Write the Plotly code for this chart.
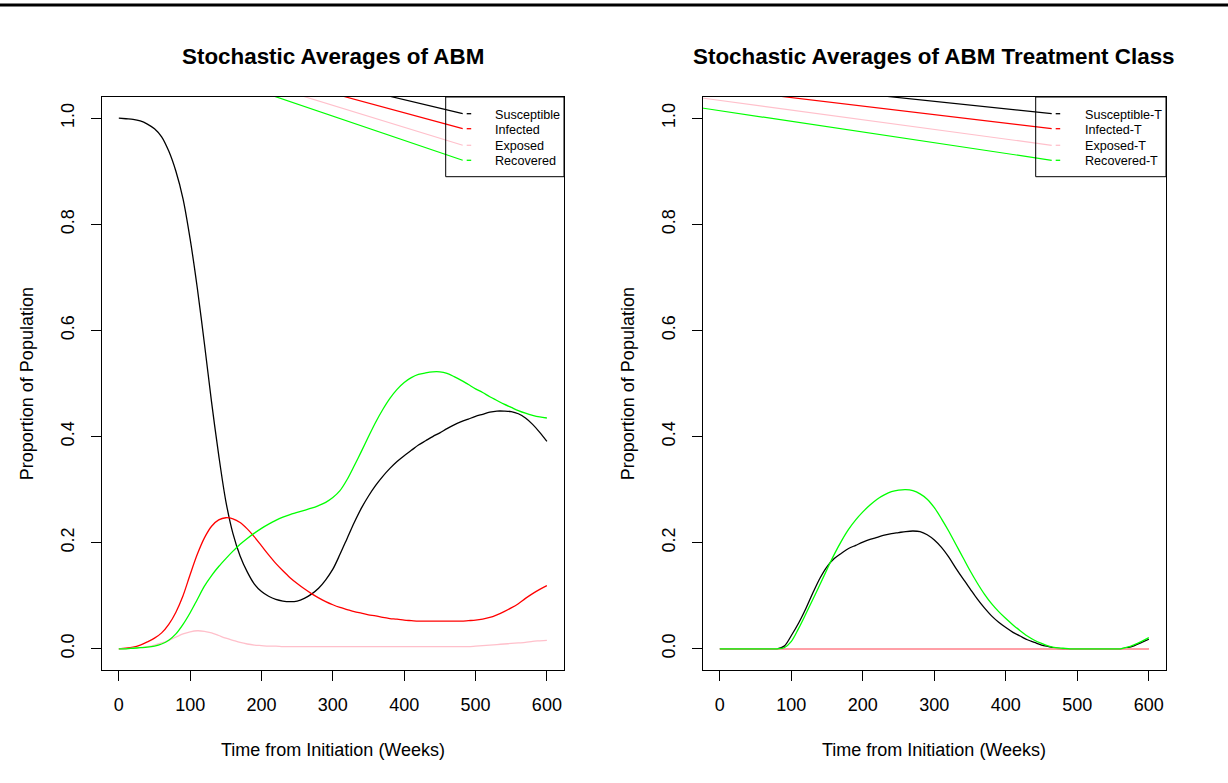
import plotly.graph_objects as go

# ---- data: weekly averages of the agent-based model (proportion of population)
weeks = list(range(0, 601, 10))

susceptible = [1.000, 0.999, 0.998, 0.995, 0.989, 0.980, 0.965, 0.938, 0.900, 0.848,
               0.772, 0.680, 0.575, 0.465, 0.365, 0.278, 0.217, 0.175, 0.145, 0.122,
               0.108, 0.099, 0.093, 0.090, 0.089, 0.090, 0.095, 0.103, 0.114, 0.130,
               0.150, 0.178, 0.208, 0.238, 0.265, 0.288, 0.308, 0.325, 0.340, 0.353,
               0.364, 0.374, 0.384, 0.392, 0.400, 0.407, 0.415, 0.422, 0.428, 0.433,
               0.438, 0.442, 0.446, 0.448, 0.448, 0.447, 0.443, 0.435, 0.423, 0.408,
               0.391]
infected = [0.000, 0.001, 0.003, 0.007, 0.013, 0.020, 0.030, 0.046, 0.069, 0.100,
            0.140, 0.178, 0.209, 0.231, 0.243, 0.247, 0.245, 0.238, 0.226, 0.211,
            0.194, 0.177, 0.161, 0.147, 0.134, 0.123, 0.113, 0.104, 0.096, 0.089,
            0.083, 0.078, 0.074, 0.070, 0.067, 0.064, 0.062, 0.059, 0.057, 0.056,
            0.054, 0.053, 0.052, 0.052, 0.052, 0.052, 0.052, 0.052, 0.052, 0.053,
            0.054, 0.056, 0.059, 0.064, 0.070, 0.077, 0.085, 0.095, 0.104, 0.112,
            0.119]
exposed = [0.000, 0.000, 0.001, 0.002, 0.004, 0.007, 0.011, 0.016, 0.022, 0.028,
           0.032, 0.034, 0.033, 0.030, 0.025, 0.020, 0.016, 0.012, 0.009, 0.007,
           0.006, 0.005, 0.005, 0.004, 0.004, 0.004, 0.004, 0.004, 0.004, 0.004,
           0.004, 0.004, 0.004, 0.004, 0.004, 0.004, 0.004, 0.004, 0.004, 0.004,
           0.004, 0.004, 0.004, 0.004, 0.004, 0.004, 0.004, 0.004, 0.004, 0.004,
           0.005, 0.006, 0.007, 0.008, 0.009, 0.010, 0.011, 0.012, 0.014, 0.015,
           0.016]
recovered = [0.000, 0.000, 0.001, 0.002, 0.003, 0.005, 0.009, 0.016, 0.028, 0.046,
             0.068, 0.093, 0.118, 0.138, 0.155, 0.170, 0.184, 0.197, 0.208, 0.218,
             0.227, 0.235, 0.242, 0.248, 0.253, 0.257, 0.261, 0.265, 0.270, 0.276,
             0.285, 0.298, 0.319, 0.345, 0.372, 0.400, 0.427, 0.451, 0.472, 0.489,
             0.502, 0.511, 0.517, 0.520, 0.522, 0.522, 0.519, 0.513, 0.506, 0.498,
             0.490, 0.483, 0.475, 0.468, 0.461, 0.455, 0.449, 0.444, 0.440, 0.437,
             0.435]

susceptible_t = [0.000, 0.000, 0.000, 0.000, 0.000, 0.000, 0.000, 0.000, 0.000, 0.005,
                 0.025, 0.048, 0.075, 0.105, 0.133, 0.155, 0.170, 0.180, 0.189, 0.195,
                 0.201, 0.206, 0.210, 0.214, 0.217, 0.219, 0.221, 0.222, 0.221, 0.215,
                 0.205, 0.191, 0.173, 0.152, 0.132, 0.113, 0.094, 0.077, 0.062, 0.050,
                 0.040, 0.031, 0.024, 0.017, 0.012, 0.007, 0.004, 0.001, 0.000, 0.000,
                 0.000, 0.000, 0.000, 0.000, 0.000, 0.000, 0.000, 0.002, 0.006, 0.012,
                 0.018]
infected_t = [0.0] * 61
exposed_t = [0.0] * 61
recovered_t = [0.000, 0.000, 0.000, 0.000, 0.000, 0.000, 0.000, 0.000, 0.000, 0.002,
               0.014, 0.038, 0.065, 0.093, 0.121, 0.150, 0.178, 0.203, 0.225, 0.243,
               0.258, 0.271, 0.282, 0.290, 0.296, 0.299, 0.300, 0.298, 0.292, 0.282,
               0.266, 0.245, 0.222, 0.197, 0.172, 0.147, 0.124, 0.103, 0.085, 0.070,
               0.057, 0.045, 0.034, 0.024, 0.016, 0.010, 0.005, 0.002, 0.001, 0.000,
               0.000, 0.000, 0.000, 0.000, 0.000, 0.000, 0.000, 0.003, 0.008, 0.014,
               0.021]

labels_main = ["Susceptible", "Infected", "Exposed", "Recovered"]
labels_treat = ["Susceptible-T", "Infected-T", "Exposed-T", "Recovered-T"]
colors = ["#000000", "#ff0000", "#ffc0cb", "#00ff00"]

x_ticks = [0, 100, 200, 300, 400, 500, 600]
y_ticks = [0.0, 0.2, 0.4, 0.6, 0.8, 1.0]
y_tick_text = ["0.0", "0.2", "0.4", "0.6", "0.8", "1.0"]

# ---- page geometry (pixels)
W, H = 1228, 783
BOX_TOP, BOX_BOTTOM = 97.0, 670.0
BOXES = [(101.7, 564.0), (702.7, 1166.0)]
XR = [-24, 624]
YR = [-0.04, 1.04]
FONT = "Liberation Sans, Arial, sans-serif"


def px(p):
    return p / W


def py(p):
    return 1 - p / H


def data_x(p, box):
    return XR[0] + (p - box[0]) / (box[1] - box[0]) * (XR[1] - XR[0])


def data_y(p):
    return YR[0] + (BOX_BOTTOM - p) / (BOX_BOTTOM - BOX_TOP) * (YR[1] - YR[0])


fig = go.Figure()

panels = [
    ([susceptible, infected, exposed, recovered], labels_main,
     "Stochastic Averages of ABM"),
    ([susceptible_t, infected_t, exposed_t, recovered_t], labels_treat,
     "Stochastic Averages of ABM Treatment Class"),
]

legend_rows = [113.7, 128.7, 145.3, 160.3]
legend_left = [445.7, 1035.7]
key_start = [466.7, 1055.7]
text_left = [492.7, 1082.7]

shapes = []
annotations = []

for i, (series, labels, title) in enumerate(panels):
    xa = "x" if i == 0 else "x2"
    ya = "y" if i == 0 else "y2"
    box = BOXES[i]

    for vals, col in zip(series, colors):
        fig.add_trace(go.Scatter(x=weeks, y=vals, mode="lines", xaxis=xa, yaxis=ya,
                                 line=dict(color=col, width=1.3, shape="spline",
                                           smoothing=0.9),
                                 hoverinfo="skip", showlegend=False))

    # legend leader lines running from the page corner to each key
    for row, col in zip(legend_rows, colors):
        x0, y0 = data_x(0.0, box), data_y(3.0)
        x1, y1 = data_x(key_start[i] - 4, box), data_y(row)
        fig.add_trace(go.Scatter(x=[x0, x1], y=[y0, y1], mode="lines", xaxis=xa, yaxis=ya,
                                 line=dict(color=col, width=1.2),
                                 hoverinfo="skip", showlegend=False))

    # legend box
    shapes.append(dict(type="rect", xref="paper", yref="paper",
                       x0=px(legend_left[i]), x1=px(box[1]),
                       y0=py(176.7), y1=py(BOX_TOP),
                       line=dict(color="black", width=1), fillcolor="rgba(0,0,0,0)"))
    for row, col, lab in zip(legend_rows, colors, labels):
        shapes.append(dict(type="line", xref="paper", yref="paper",
                           x0=px(key_start[i]), x1=px(key_start[i] + 4.5),
                           y0=py(row), y1=py(row),
                           line=dict(color=col, width=1.3)))
        annotations.append(dict(text=lab, xref="paper", yref="paper",
                                x=px(text_left[i]), y=py(row + 1),
                                xanchor="left", yanchor="middle", showarrow=False,
                                font=dict(family=FONT, size=12.6, color="black")))

    cx = (box[0] + box[1]) / 2
    annotations.append(dict(text="<b>" + title + "</b>", xref="paper", yref="paper",
                            x=px(cx), y=py(57), xanchor="center", yanchor="middle",
                            showarrow=False,
                            font=dict(family=FONT, size=22.4, color="black")))
    annotations.append(dict(text="Time from Initiation (Weeks)", xref="paper",
                            yref="paper", x=px(cx), y=py(750), xanchor="center",
                            yanchor="middle", showarrow=False,
                            font=dict(family=FONT, size=18, color="black")))
    annotations.append(dict(text="Proportion of Population", xref="paper", yref="paper",
                            x=px(box[0] - 75), y=py((BOX_TOP + BOX_BOTTOM) / 2),
                            xanchor="center", yanchor="middle", textangle=-90,
                            showarrow=False,
                            font=dict(family=FONT, size=18, color="black")))

# rule across the top of the page
shapes.append(dict(type="line", xref="paper", yref="paper", x0=0, x1=1,
                   y0=py(5), y1=py(5), line=dict(color="black", width=3)))

axis_common = dict(showgrid=False, zeroline=False, showline=True, linecolor="black",
                   linewidth=1, mirror=True, ticks="outside", ticklen=10,
                   tickcolor="black", tickwidth=1,
                   tickfont=dict(family=FONT, size=18, color="black"))

layout_axes = {}
for i, box in enumerate(BOXES):
    sfx = "" if i == 0 else "2"
    layout_axes["xaxis" + sfx] = dict(
        axis_common, domain=[px(box[0]), px(box[1])], range=XR,
        tickvals=x_ticks, ticktext=[str(v) for v in x_ticks],
        anchor="y" + sfx, ticklabelstandoff=8)
    layout_axes["yaxis" + sfx] = dict(
        axis_common, domain=[py(BOX_BOTTOM), py(BOX_TOP)], range=YR,
        tickvals=y_ticks, ticktext=y_tick_text, tickangle=-90,
        anchor="x" + sfx, ticklabelstandoff=10)

fig.update_layout(width=W, height=H, margin=dict(l=0, r=0, t=0, b=0),
                  paper_bgcolor="white", plot_bgcolor="white",
                  showlegend=False, shapes=shapes, annotations=annotations,
                  hovermode=False, **layout_axes)

fig.write_html("out.html", config={"displayModeBar": False})
